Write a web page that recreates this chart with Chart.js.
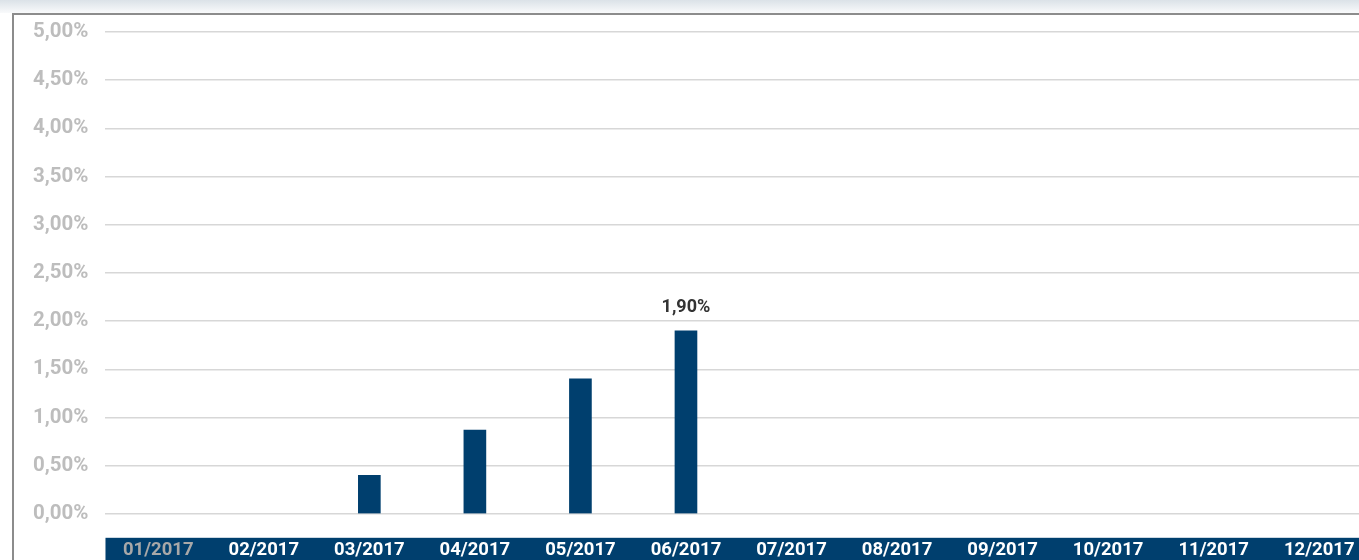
<!DOCTYPE html>
<html>
<head>
<meta charset="utf-8">
<script src="https://cdn.jsdelivr.net/npm/chart.js@4.4.0/dist/chart.umd.min.js"></script>
<style>
  html, body { margin: 0; padding: 0; width: 1359px; height: 560px; overflow: hidden; background: #fff; }
  #shade { position: absolute; left: 0; top: 0; width: 1359px; height: 13px;
           background: linear-gradient(#dbe2e8, #f9fafb); }
  #frame { position: absolute; left: 12px; top: 13px; width: 1400px; height: 600px;
           border-left: 2px solid #8c8c8c; border-top: 2px solid #8c8c8c; }
  #wrap { position: absolute; left: 14px; top: 16px; width: 1366px; height: 545px; }
</style>
</head>
<body>
<div id="shade"></div>
<div id="frame"></div>
<div id="wrap"><canvas id="c" width="1366" height="545"></canvas></div>
<script>
const categories = ['01/2017','02/2017','03/2017','04/2017','05/2017','06/2017','07/2017','08/2017','09/2017','10/2017','11/2017','12/2017'];
const values = [null, null, 0.40, 0.87, 1.40, 1.90, null, null, null, null, null, null];
const yTicks = [0, 0.5, 1, 1.5, 2, 2.5, 3, 3.5, 4, 4.5, 5];
const labeledIndex = [5];

const fmt = v => v.toFixed(2).replace('.', ',') + '%';

const bandPlugin = {
  id: 'band',
  beforeDraw(chart) {
    const { ctx, chartArea } = chart;
    ctx.save();
    ctx.fillStyle = '#003f6e';
    ctx.fillRect(chartArea.left, chartArea.bottom + 24, chart.width - chartArea.left, chart.height);
    ctx.restore();
  }
};

const labelPlugin = {
  id: 'vlabels',
  afterDatasetsDraw(chart) {
    const { ctx } = chart;
    const meta = chart.getDatasetMeta(0);
    ctx.save();
    ctx.font = 'bold 18px Roboto';
    ctx.fillStyle = '#333333';
    ctx.textAlign = 'center';
    ctx.textBaseline = 'middle';
    labeledIndex.forEach(i => {
      const el = meta.data[i];
      if (el && values[i] != null) ctx.fillText(fmt(values[i]), el.x, el.y - 23);
    });
    ctx.restore();
  }
};

new Chart(document.getElementById('c'), {
  type: 'bar',
  data: {
    labels: categories,
    datasets: [{
      data: values,
      backgroundColor: '#003f6e',
      barThickness: 22
    }]
  },
  options: {
    responsive: false,
    animation: false,
    layout: { padding: { left: 19, right: 8, top: 16, bottom: 0 } },
    plugins: { legend: { display: false }, tooltip: { enabled: false } },
    scales: {
      x: {
        grid: { display: true, drawOnChartArea: false, drawTicks: true, tickLength: 25, tickColor: 'rgba(0,0,0,0)', color: 'rgba(0,0,0,0)' },
        border: { display: false },
        ticks: {
          padding: 0,
          maxRotation: 0,
          autoSkip: false,
          font: { family: 'Roboto', weight: 'bold', size: 18.5, lineHeight: 1.2 },
          color: ctx => ctx.index === 0 ? '#a8a8a8' : '#ffffff'
        }
      },
      y: {
        min: 0,
        max: 5,
        afterBuildTicks(axis) { axis.ticks = yTicks.map(v => ({ value: v })); },
        grid: { color: '#d7d7d7', lineWidth: 1.5, drawTicks: true, tickLength: 17, tickColor: 'rgba(0,0,0,0)' },
        border: { display: false },
        ticks: {
          padding: 0,
          font: { family: 'Roboto', weight: 'bold', size: 20.5 },
          color: '#bdbdbd',
          callback: v => fmt(v)
        }
      }
    }
  },
  plugins: [bandPlugin, labelPlugin]
});
</script>
</body>
</html>
